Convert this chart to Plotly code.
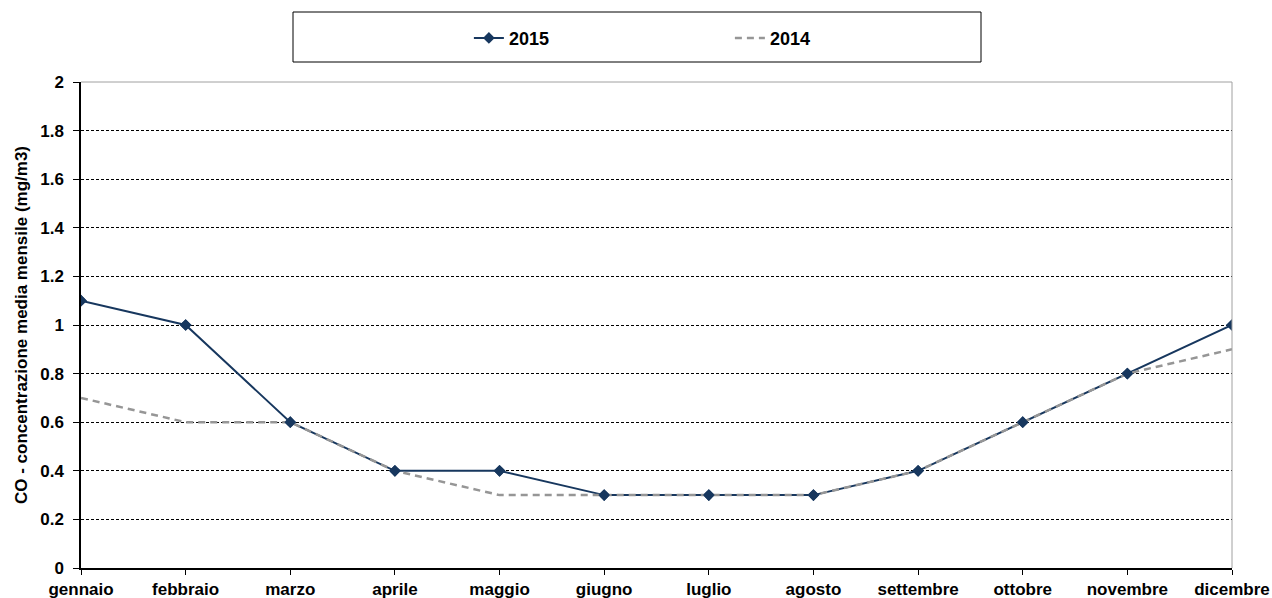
import plotly.graph_objects as go

mesi = ["gennaio", "febbraio", "marzo", "aprile", "maggio", "giugno",
        "luglio", "agosto", "settembre", "ottobre", "novembre", "dicembre"]
co_2015 = [1.1, 1.0, 0.6, 0.4, 0.4, 0.3, 0.3, 0.3, 0.4, 0.6, 0.8, 1.0]
co_2014 = [0.7, 0.6, 0.6, 0.4, 0.3, 0.3, 0.3, 0.3, 0.4, 0.6, 0.8, 0.9]
y_ticks = [0, 0.2, 0.4, 0.6, 0.8, 1, 1.2, 1.4, 1.6, 1.8, 2]

NAVY = "#17375E"
GRAY = "#969696"
FONT = "Liberation Sans, Arial, sans-serif"

x = list(range(len(mesi)))

fig = go.Figure()
fig.add_trace(go.Scatter(
    x=x, y=co_2015, name="<b>2015</b>", mode="lines+markers",
    line=dict(color=NAVY, width=2),
    marker=dict(symbol="diamond", size=9, color=NAVY),
))
fig.add_trace(go.Scatter(
    x=x, y=co_2014, name="<b>2014</b>", mode="lines",
    line=dict(color=GRAY, width=2.5, dash="7px,5px"),
))
# 2015 markers redrawn above the 2014 line
fig.add_trace(go.Scatter(
    x=x, y=co_2015, mode="markers", showlegend=False, hoverinfo="skip",
    marker=dict(symbol="diamond", size=9, color=NAVY),
))

fig.update_layout(
    width=1272, height=598,
    margin=dict(l=81, r=40, t=82, b=30),
    paper_bgcolor="white", plot_bgcolor="white",
    font=dict(family=FONT, size=17, color="black"),
    showlegend=True,
    legend=dict(
        orientation="h", x=0.337, xanchor="left", y=1.09, yanchor="middle",
        entrywidth=216, entrywidthmode="pixels",
        bgcolor="rgba(0,0,0,0)", borderwidth=0,
        font=dict(family=FONT, size=18, color="black"),
    ),
    xaxis=dict(
        range=[0, 11], tickmode="array", tickvals=x,
        ticktext=[f"<b>{m}</b>" for m in mesi],
        showgrid=False, zeroline=False, automargin=False,
        showline=True, linecolor="black", linewidth=1.5,
        ticks="outside", ticklen=5, tickcolor="black",
        tickfont=dict(family=FONT, size=17, color="black"),
    ),
    yaxis=dict(
        range=[0, 2], tickmode="array", tickvals=y_ticks,
        ticktext=[f"<b>{v:g}</b>" for v in y_ticks],
        showgrid=True, gridcolor="black", gridwidth=1, griddash="3px,2px",
        zeroline=False, automargin=False,
        showline=True, linecolor="black", linewidth=1.5,
        ticks="outside", ticklen=6, tickcolor="black", ticklabelstandoff=6,
        tickfont=dict(family=FONT, size=17, color="black"),
        title=dict(text="<b>CO - concentrazione media mensile (mg/m3)</b>",
                   font=dict(family=FONT, size=17, color="black"), standoff=8),
    ),
    shapes=[
        # plot-area frame top and right
        dict(type="line", xref="paper", yref="paper", x0=0, x1=1, y0=1, y1=1,
             line=dict(color="#A0A0A0", width=1)),
        dict(type="line", xref="paper", yref="paper", x0=1, x1=1, y0=0, y1=1,
             line=dict(color="#A0A0A0", width=1)),
        # legend box
        dict(type="rect", xref="paper", yref="paper",
             x0=(293 - 81) / 1151, x1=(981 - 81) / 1151,
             y0=(568 - 62) / 486, y1=(568 - 12) / 486,
             line=dict(color="black", width=1), fillcolor="rgba(0,0,0,0)"),
    ],
)

fig.write_html("out.html")
